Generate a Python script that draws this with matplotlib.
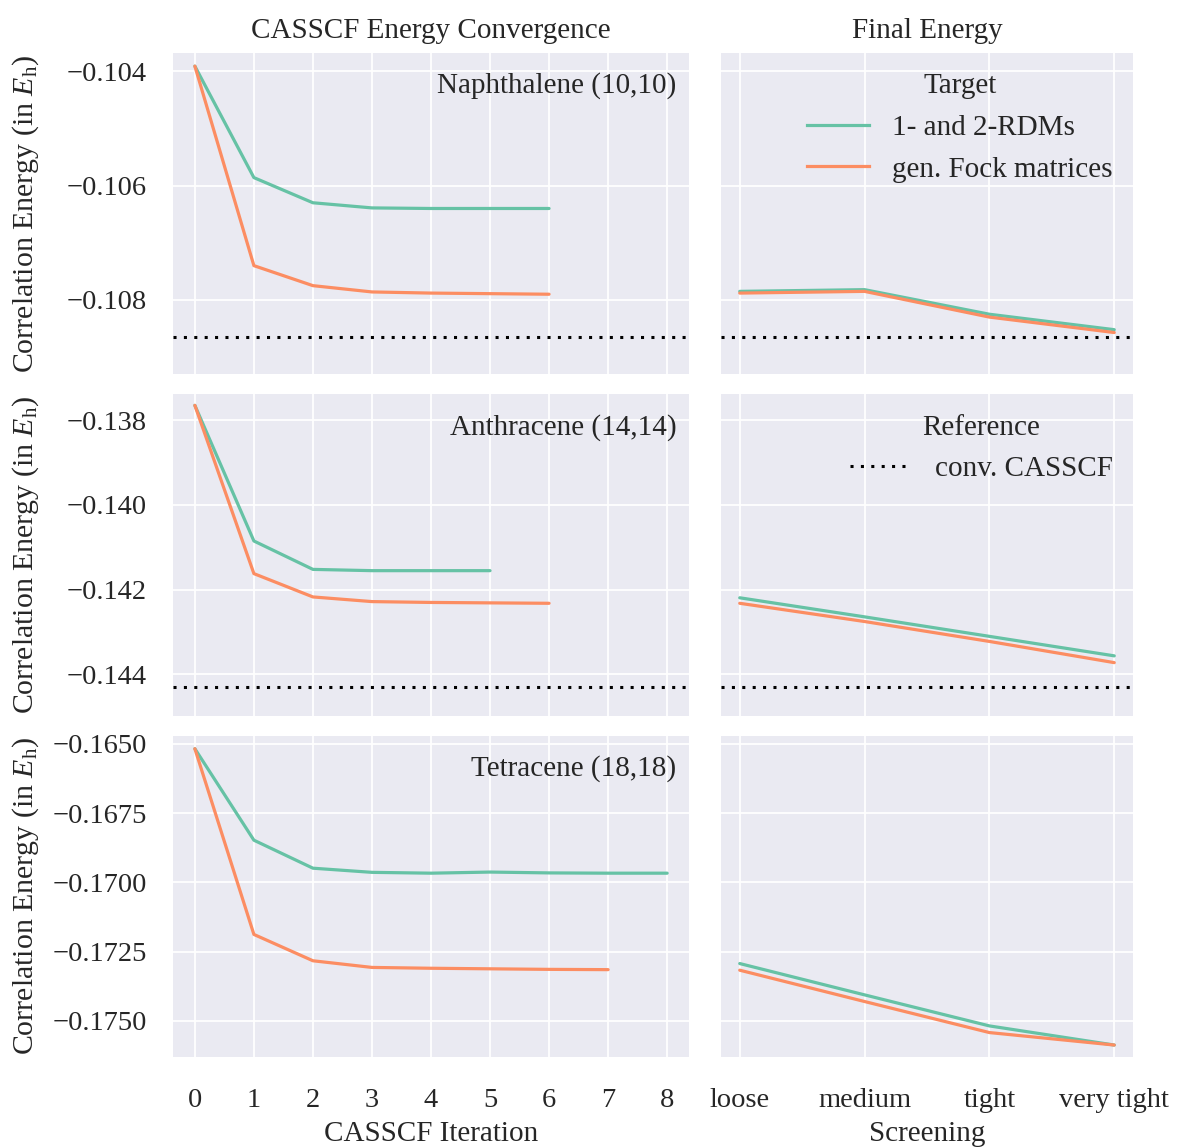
import matplotlib
matplotlib.use("Agg")
import matplotlib.pyplot as plt
from matplotlib.ticker import MultipleLocator, FuncFormatter
from matplotlib.lines import Line2D

# ---------------- data ----------------
molecules = ["Naphthalene (10,10)", "Anthracene (14,14)", "Tetracene (18,18)"]
screening = ["loose", "medium", "tight", "very tight"]
series_names = ["1- and 2-RDMs", "gen. Fock matrices"]

naph_rdm = [-0.10391, -0.10586, -0.10630, -0.10639, -0.10640, -0.10640, -0.10640]
naph_fock = [-0.10391, -0.10740, -0.10775, -0.10786, -0.10788, -0.10789, -0.10790]
naph_final_rdm = [-0.10785, -0.10782, -0.10825, -0.10852]
naph_final_fock = [-0.10788, -0.10785, -0.10830, -0.10857]
naph_ref = -0.10865

anth_rdm = [-0.13765, -0.14085, -0.14152, -0.14155, -0.14155, -0.14155]
anth_fock = [-0.13765, -0.14162, -0.14217, -0.14228, -0.14230, -0.14231, -0.14232]
anth_final_rdm = [-0.14219, -0.14264, -0.14310, -0.14356]
anth_final_fock = [-0.14232, -0.14275, -0.14322, -0.14372]
anth_ref = -0.14430

tetr_rdm = [-0.16518, -0.16848, -0.16949, -0.16964, -0.16967, -0.16963, -0.16966, -0.16967, -0.16967]
tetr_fock = [-0.16518, -0.17188, -0.17283, -0.17307, -0.17310, -0.17312, -0.17314, -0.17315]
tetr_final_rdm = [-0.17293, -0.17406, -0.17518, -0.17587]
tetr_final_fock = [-0.17317, -0.17430, -0.17542, -0.17587]
tetr_ref = None

conv_rdm = [naph_rdm, anth_rdm, tetr_rdm]
conv_fock = [naph_fock, anth_fock, tetr_fock]
final_rdm = [naph_final_rdm, anth_final_rdm, tetr_final_rdm]
final_fock = [naph_final_fock, anth_final_fock, tetr_final_fock]
refs = [naph_ref, anth_ref, tetr_ref]

ylims = [(-0.10930, -0.10368), (-0.14497, -0.13739), (-0.17630, -0.16471)]
ysteps = [0.002, 0.002, 0.0025]
ydec = [3, 3, 4]

# ---------------- style ----------------
GREEN = "#66c2a5"
ORANGE = "#fc8d62"
BG = "#eaeaf2"
TXT = "#262626"
plt.rcParams.update({
    "font.family": ["Liberation Serif", "DejaVu Serif"],
    "mathtext.fontset": "custom",
    "mathtext.rm": "Liberation Serif",
    "mathtext.it": "Liberation Serif:italic",
    "mathtext.bf": "Liberation Serif:bold",
    "axes.unicode_minus": True,
    "text.color": TXT,
    "axes.labelcolor": TXT,
    "xtick.color": TXT,
    "ytick.color": TXT,
})

FS_BIG = 21
FS_TICK = 20.5
FS_YLAB = 21.5

fig = plt.figure(figsize=(11.77, 11.47), dpi=100)
gs = fig.add_gridspec(3, 2, left=0.147, right=0.9626, bottom=0.0785, top=0.9538,
                      hspace=0.0625, wspace=0.069, width_ratios=[516, 412])

axes = [[None, None] for _ in range(3)]
for r in range(3):
    axl = fig.add_subplot(gs[r, 0], sharex=axes[0][0] if r > 0 else None)
    axr = fig.add_subplot(gs[r, 1], sharey=axl, sharex=axes[0][1] if r > 0 else None)
    axes[r][0] = axl
    axes[r][1] = axr

lw = 2.3
dot_style = (0, (1, 2.4))

for r in range(3):
    axl, axr = axes[r]
    for ax in (axl, axr):
        ax.set_facecolor(BG)
        ax.grid(True, color="white", lw=1.3)
        ax.set_axisbelow(True)
        for s in ax.spines.values():
            s.set_visible(False)
        ax.tick_params(length=0, labelsize=FS_TICK)
        ax.tick_params(axis="y", pad=19)
        ax.tick_params(axis="x", pad=22)

    axl.plot(range(len(conv_rdm[r])), conv_rdm[r], color=GREEN, lw=lw,
             solid_capstyle="round")
    axl.plot(range(len(conv_fock[r])), conv_fock[r], color=ORANGE, lw=lw,
             solid_capstyle="round")
    axr.plot(range(len(screening)), final_rdm[r], color=GREEN, lw=lw,
             solid_capstyle="round")
    axr.plot(range(len(screening)), final_fock[r], color=ORANGE, lw=lw,
             solid_capstyle="round")
    if refs[r] is not None:
        for ax in (axl, axr):
            ax.axhline(refs[r], color="black", lw=2.2, linestyle=dot_style,
                       dash_capstyle="butt")

    axl.set_ylim(*ylims[r])
    axl.yaxis.set_major_locator(MultipleLocator(ysteps[r]))
    d = ydec[r]
    axl.yaxis.set_major_formatter(
        FuncFormatter(lambda v, p, d=d: f"{v:.{d}f}".replace("-", "\u2212")))
    axl.set_ylabel(r"Correlation Energy (in $E_\mathrm{h}$)", fontsize=FS_YLAB,
                   labelpad=8)
    axl.text(0.976, 0.94, molecules[r], transform=axl.transAxes, ha="right",
             va="top", fontsize=FS_BIG)

    axl.set_xlim(-0.37, 8.37)
    axl.xaxis.set_major_locator(MultipleLocator(1))
    axr.set_xlim(-0.15, 3.15)
    axr.set_xticks(range(len(screening)))
    axr.set_xticklabels(screening)
    plt.setp(axr.get_yticklabels(), visible=False)
    if r < 2:
        plt.setp(axl.get_xticklabels(), visible=False)
        plt.setp(axr.get_xticklabels(), visible=False)

axes[0][0].set_title("CASSCF Energy Convergence", fontsize=FS_BIG, pad=11)
axes[0][1].set_title("Final Energy", fontsize=FS_BIG, pad=11)
axes[2][0].set_xlabel("CASSCF Iteration", fontsize=FS_BIG, labelpad=6)
axes[2][1].set_xlabel("Screening", fontsize=FS_BIG, labelpad=6)
fig.align_ylabels([axes[r][0] for r in range(3)])

leg_kw = dict(loc="upper right", frameon=False, fontsize=FS_BIG,
              title_fontsize=FS_BIG, handlelength=2.1, handletextpad=0.8,
              borderaxespad=0.3, labelspacing=0.52)
h1 = [Line2D([], [], color=GREEN, lw=lw), Line2D([], [], color=ORANGE, lw=lw)]
axes[0][1].legend(h1, series_names, title="Target", **leg_kw)
h2 = [Line2D([], [], color="black", lw=2.2, linestyle=dot_style, dash_capstyle="butt")]
axes[1][1].legend(h2, ["conv. CASSCF"], title="Reference", **leg_kw)

fig.savefig("out.png", dpi=100)
